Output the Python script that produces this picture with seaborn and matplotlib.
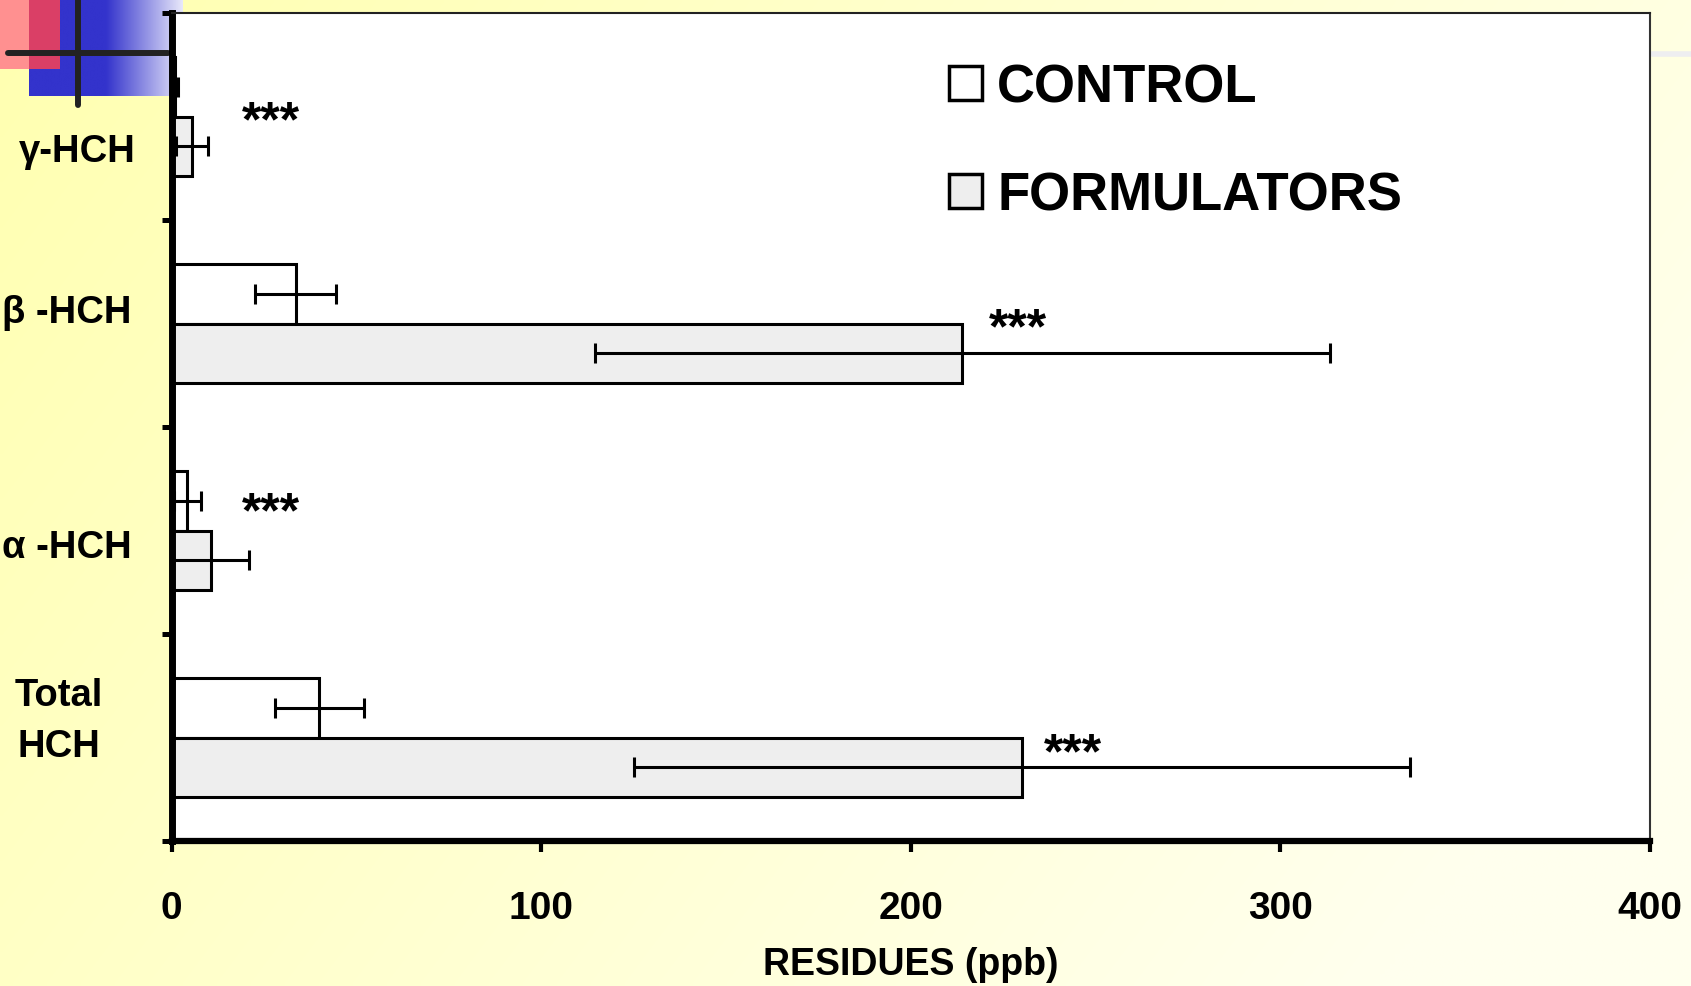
import numpy as np
import pandas as pd
import matplotlib
matplotlib.use("Agg")
import matplotlib.pyplot as plt
import matplotlib.transforms as mtransforms
from matplotlib.patches import Rectangle, Patch
from matplotlib.lines import Line2D
import seaborn as sns

# ---------------- data ----------------
categories = ["γ-HCH", "β -HCH", "α -HCH", "Total\nHCH"]
groups = ["CONTROL", "FORMULATORS"]
control_mean = [0.9, 33.6, 4.3, 40.0]
control_err = [0.9, 11.0, 3.7, 12.0]
form_mean = [5.5, 214.0, 10.7, 230.0]
form_err = [4.3, 99.5, 10.4, 105.0]
star_text = ["***", "***", "***", "***"]
star_x = [27.0, 229.0, 27.0, 244.0]
star_y = [0.03, 1.03, 1.915, 3.08]
xticks = [0, 100, 200, 300, 400]
xlabel = "RESIDUES (ppb)"

W, H, DPI = 1691, 987, 100

sns.set_theme(style="white")
plt.rcParams['font.family'] = ['Liberation Sans', 'DejaVu Sans']
plt.rcParams['font.weight'] = 'bold'
for k in ['text.color', 'axes.labelcolor', 'xtick.color', 'ytick.color']:
    plt.rcParams[k] = 'black'

fig = plt.figure(figsize=(W / DPI, H / DPI), dpi=DPI)

# ---------------- background gradient ----------------
bg = fig.add_axes([0, 0, 1, 1], zorder=-10)
yy, xx = np.mgrid[0:1:200j, 0:1:340j]
t = np.clip(0.8 * xx + 0.35 * yy, 0, 1)
img = np.ones((200, 340, 3))
img[..., 2] = (176 + (238 - 176) * t) / 255
bg.imshow(img, aspect='auto', extent=[0, 1, 0, 1], interpolation='bilinear')
bg.set_axis_off()

def fx(x):
    return x / W

def fy(y):
    return 1 - y / H

# ---------------- logo decoration (top-left) ----------------
logo = fig.add_axes([fx(29), fy(97), fx(183) - fx(29), 97 / H], zorder=-5)
gx = np.linspace(29, 183, 300)
s = np.clip((gx - 106) / (183 - 106), 0, 1)
lg = np.zeros((1, 300, 3))
lg[0, :, 0] = (51 + (232 - 51) * s) / 255
lg[0, :, 1] = (51 + (232 - 51) * s) / 255
lg[0, :, 2] = (204 + (250 - 204) * s) / 255
logo.imshow(lg, aspect='auto', extent=[0, 1, 0, 1])
logo.set_axis_off()

fig.add_artist(Rectangle((fx(0), fy(70)), fx(29), 70 / H, transform=fig.transFigure,
                         facecolor='#FF9090', edgecolor='none', zorder=-4))
fig.add_artist(Rectangle((fx(29), fy(70)), fx(31), 70 / H, transform=fig.transFigure,
                         facecolor='#DA3F66', edgecolor='none', zorder=-4))
fig.add_artist(Line2D([fx(8), fx(168)], [fy(54), fy(54)], transform=fig.transFigure,
                      color='#222222', lw=4.3, zorder=-3))
fig.add_artist(Line2D([fx(78), fx(78)], [fy(0), fy(106)], transform=fig.transFigure,
                      color='#222222', lw=4.3, zorder=-3))
fig.add_artist(Line2D([fx(1652), fx(1691)], [fy(54.5), fy(54.5)], transform=fig.transFigure,
                      color='#EEEEF0', lw=4, zorder=-3))

# ---------------- main chart ----------------
ax = fig.add_axes([fx(171.5), fy(842), fx(1650) - fx(171.5), (842 - 14) / H], zorder=0)
ax.set_facecolor('white')

df = pd.DataFrame({
    "category": categories * 2,
    "group": [groups[0]] * len(categories) + [groups[1]] * len(categories),
    "value": control_mean + form_mean,
})
palette = {"CONTROL": "white", "FORMULATORS": "#EEEEEE"}
sns.barplot(data=df, y="category", x="value", hue="group", orient="h",
            order=categories, hue_order=groups, palette=palette, saturation=1,
            edgecolor="black", linewidth=2.2, width=0.573, errorbar=None,
            legend=False, ax=ax)

errs = [control_err, form_err]
for cont, err in zip(ax.containers, errs):
    xs = [b.get_width() for b in cont]
    ys = [b.get_y() + b.get_height() / 2 for b in cont]
    ax.errorbar(xs, ys, xerr=err, fmt='none', ecolor='black', elinewidth=2.2,
                capsize=7.2, capthick=2.2, zorder=5)

ax.set_xlim(0, 400)
ax.set_ylim(3.5, -0.5)

# stars
for sx, sy, st in zip(star_x, star_y, star_text):
    ax.text(sx, sy, st, fontsize=36, fontweight='bold', ha='center', va='center',
            color='black', zorder=6)

# y axis: boundary ticks, category labels as text
ax.set_yticks([-0.5, 0.5, 1.5, 2.5, 3.5])
ax.set_yticklabels([])
ax.tick_params(axis='y', which='major', direction='out', length=7, width=3.6, color='black', left=True)
ax.set_ylabel("")
blend = mtransforms.blended_transform_factory(fig.transFigure, ax.transData)
label_y = [0.165, 0.945, 2.08, 2.918]
label_x = [136, 132, 132, 59]
label_ha = ['right', 'right', 'right', 'center']
for lab, ly, lx, ha in zip(categories, label_y, label_x, label_ha):
    ax.text(fx(lx), ly, lab, transform=blend, fontsize=27.5, fontweight='bold',
            ha=ha, va='center', multialignment='center', linespacing=1.55,
            color='black', clip_on=False)

# x axis
ax.set_xticks(xticks)
ax.set_xticklabels([str(v) for v in xticks], fontsize=28, fontweight='bold')
ax.tick_params(axis='x', direction='out', length=8, width=3, color='black', pad=27, bottom=True)
ax.set_xlabel(xlabel, fontsize=27, fontweight='bold', labelpad=15, color='black')

for side, lw, col in [('left', 5, 'black'), ('bottom', 4.5, 'black'),
                      ('top', 1.5, '#222222'), ('right', 1.5, '#333333')]:
    ax.spines[side].set_visible(True)
    ax.spines[side].set_linewidth(lw)
    ax.spines[side].set_color(col)

# legend
handles = [Patch(facecolor=palette[g], edgecolor='black', linewidth=2.5) for g in groups]
leg = ax.legend(handles, groups, loc='upper left', bbox_to_anchor=(0.526, 0.94), frameon=False,
                handlelength=0.63, handleheight=0.63, handletextpad=0.28,
                borderpad=0, borderaxespad=0, labelspacing=1.1,
                prop={'weight': 'bold', 'size': 38})
for txt in leg.get_texts():
    txt.set_color('black')

fig.savefig("out.png", dpi=DPI)
